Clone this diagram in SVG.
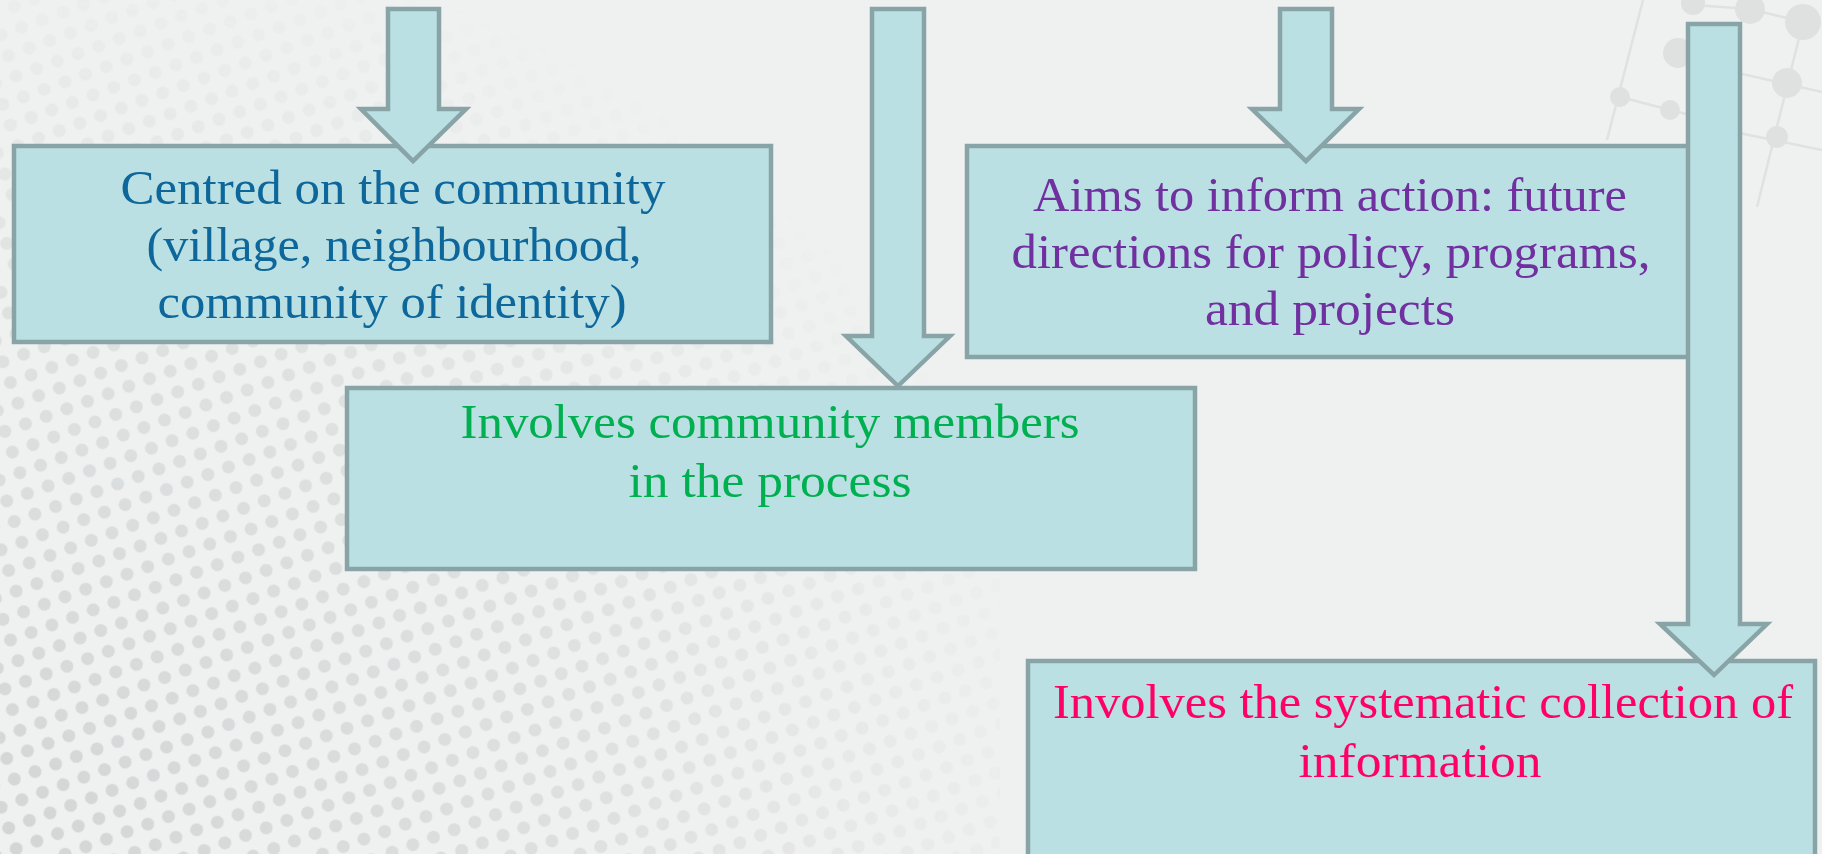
<svg xmlns="http://www.w3.org/2000/svg" width="1822" height="854" viewBox="0 0 1822 854">
<style>
.box{fill:#BBE0E3;stroke:#88A4A7;stroke-width:4.5}
.arrow{fill:#BBE0E3;stroke:#88A4A7;stroke-width:4.5;stroke-linejoin:miter}
.t{font-family:"Liberation Serif","Times New Roman",serif;font-size:48px;text-anchor:middle}
.mol circle{fill:#dfe1e0}
.mol line{stroke:#e0e2e1;stroke-width:2.5}
</style>
<defs>
<pattern id="dots" width="22" height="22" patternUnits="userSpaceOnUse" patternTransform="rotate(-20)">
<circle cx="11" cy="11" r="6.5" fill="#d3d5d5"/>
</pattern>
<radialGradient id="fade" cx="0" cy="1" r="1.1" gradientUnits="objectBoundingBox">
<stop offset="0" stop-color="#fff" stop-opacity="1"/>
<stop offset="0.55" stop-color="#fff" stop-opacity="0.6"/>
<stop offset="1" stop-color="#fff" stop-opacity="0"/>
</radialGradient>
<mask id="m">
<rect x="0" y="0" width="1000" height="854" fill="url(#fade)"/>
</mask>
</defs>
<rect x="0" y="0" width="1822" height="854" fill="#EFF1F0"/>
<rect x="0" y="0" width="1000" height="854" fill="url(#dots)" mask="url(#m)"/>
<g class="mol">
<line x1="1643" y1="0" x2="1607" y2="140"/>
<line x1="1620" y1="97" x2="1690" y2="115"/>
<line x1="1693" y1="5" x2="1750" y2="9"/>
<line x1="1750" y1="9" x2="1803" y2="22"/>
<line x1="1803" y1="22" x2="1757" y2="207"/>
<line x1="1680" y1="60" x2="1822" y2="92"/>
<line x1="1700" y1="125" x2="1822" y2="150"/>
<circle cx="1620" cy="97" r="10"/>
<circle cx="1670" cy="110" r="10"/>
<circle cx="1678" cy="53" r="15"/>
<circle cx="1693" cy="3" r="12"/>
<circle cx="1750" cy="9" r="15"/>
<circle cx="1803" cy="22" r="18"/>
<circle cx="1787" cy="83" r="15"/>
<circle cx="1777" cy="137" r="11"/>
</g>
<g id="node-community">
<rect class="box" x="14" y="146" width="757" height="196"/>
<g class="t" fill="#0E679B">
<text x="393" y="204" textLength="545" lengthAdjust="spacingAndGlyphs">Centred on the community</text>
<text x="394" y="261" textLength="495" lengthAdjust="spacingAndGlyphs">(village, neighbourhood,</text>
<text x="392" y="318" textLength="469" lengthAdjust="spacingAndGlyphs">community of identity)</text>
</g>
</g>
<g id="node-members">
<rect class="box" x="347" y="388" width="848" height="181"/>
<g class="t" fill="#00B050">
<text x="770" y="438" textLength="619" lengthAdjust="spacingAndGlyphs">Involves community members</text>
<text x="770" y="497" textLength="283" lengthAdjust="spacingAndGlyphs">in the process</text>
</g>
</g>
<g id="node-action">
<rect class="box" x="967" y="146" width="730" height="211"/>
<g class="t" fill="#7030A0">
<text x="1330" y="211" textLength="594" lengthAdjust="spacingAndGlyphs">Aims to inform action: future</text>
<text x="1331" y="268" textLength="639" lengthAdjust="spacingAndGlyphs">directions for policy, programs,</text>
<text x="1330" y="325" textLength="250" lengthAdjust="spacingAndGlyphs">and projects</text>
</g>
</g>
<g id="node-collection">
<rect class="box" x="1028" y="661" width="787" height="210"/>
<g class="t" fill="#FF0066">
<text x="1423" y="718" textLength="740" lengthAdjust="spacingAndGlyphs">Involves the systematic collection of</text>
<text x="1420" y="777" textLength="243" lengthAdjust="spacingAndGlyphs">information</text>
</g>
</g>
<g id="connectors">
<polygon class="arrow" points="388,9 439,9 439,109 466,109 413,161 361,109 388,109"/>
<polygon class="arrow" points="872,9 924,9 924,336 950,336 898,386 846,336 872,336"/>
<polygon class="arrow" points="1280,9 1332,9 1332,109 1359,109 1306,161 1252,109 1280,109"/>
<polygon class="arrow" points="1688,24 1740,24 1740,624 1767,624 1714,675 1660,624 1688,624"/>
</g>
</svg>
